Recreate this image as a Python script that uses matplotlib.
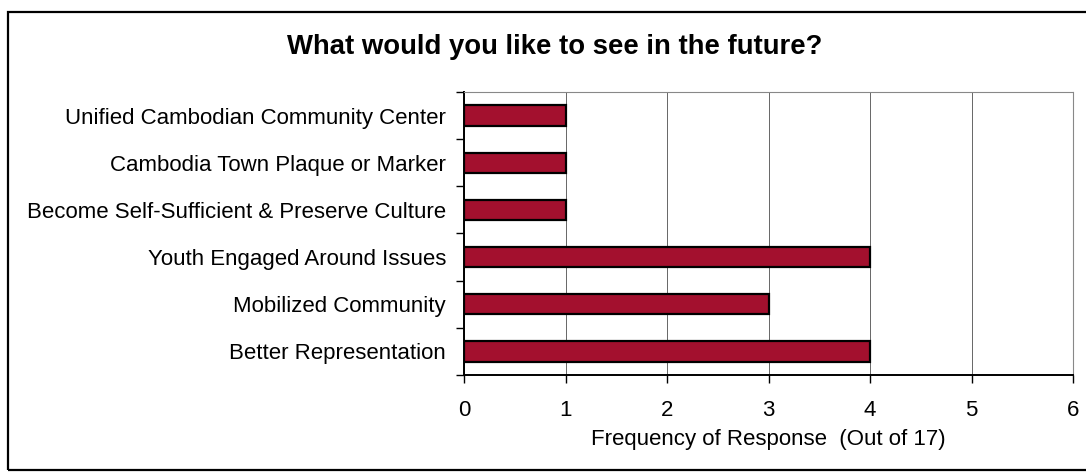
import matplotlib.pyplot as plt
from matplotlib.patches import Rectangle
import numpy as np

# Survey responses, listed bottom to top as they appear on the chart
categories = ["Better Representation", "Mobilized Community", "Youth Engaged Around Issues",
              "Become Self-Sufficient & Preserve Culture", "Cambodia Town Plaque or Marker",
              "Unified Cambodian Community Center"]
counts = [4, 3, 4, 1, 1, 1]
x_ticks = [0, 1, 2, 3, 4, 5, 6]

plt.rcParams['font.family'] = ['Liberation Sans', 'DejaVu Sans']

fig = plt.figure(figsize=(10.86, 4.72), dpi=100)
ax = fig.add_axes([0.4273, 0.2055, 0.5608, 0.5996])

# outer chart frame
fig.patches.append(Rectangle((8 / 1086, 2 / 472), 1.1, 458 / 472, transform=fig.transFigure,
                             fill=False, edgecolor='black', linewidth=1.6, zorder=0))

pos = np.arange(len(categories))
ax.barh(pos, counts, height=0.43, color='#A3102E', edgecolor='black', linewidth=1.6, zorder=3)

ax.set_xlim(0, 6)
ax.set_ylim(-0.5, len(categories) - 0.5)
ax.set_xticks(x_ticks)
ax.set_xticklabels([str(t) for t in x_ticks], fontsize=16)
ax.set_yticks(pos)
ax.set_yticklabels(categories, fontsize=16)
ax.set_yticks(np.arange(-0.5, len(categories)), minor=True)
ax.tick_params(axis='y', which='major', length=0, pad=13)
ax.tick_params(axis='y', which='minor', length=6, width=1, direction='out')
ax.tick_params(axis='x', length=6, width=1, direction='out', pad=12)

ax.grid(axis='x', color='#666666', linewidth=0.7, zorder=0)
ax.spines['left'].set_color('black')
ax.spines['left'].set_linewidth(1.4)
ax.spines['bottom'].set_color('black')
ax.spines['bottom'].set_linewidth(1.4)
ax.spines['top'].set_color('#888888')
ax.spines['top'].set_linestyle((0, (2, 1)))
ax.spines['right'].set_color('#888888')
ax.spines['right'].set_linewidth(0.8)

ax.set_xlabel("Frequency of Response  (Out of 17)", fontsize=16, labelpad=6)
fig.text(0.511, 0.9, "What would you like to see in the future?", fontsize=19.8,
         fontweight='bold', ha='center', va='center')

fig.savefig("out.png", dpi=100, facecolor='white')
